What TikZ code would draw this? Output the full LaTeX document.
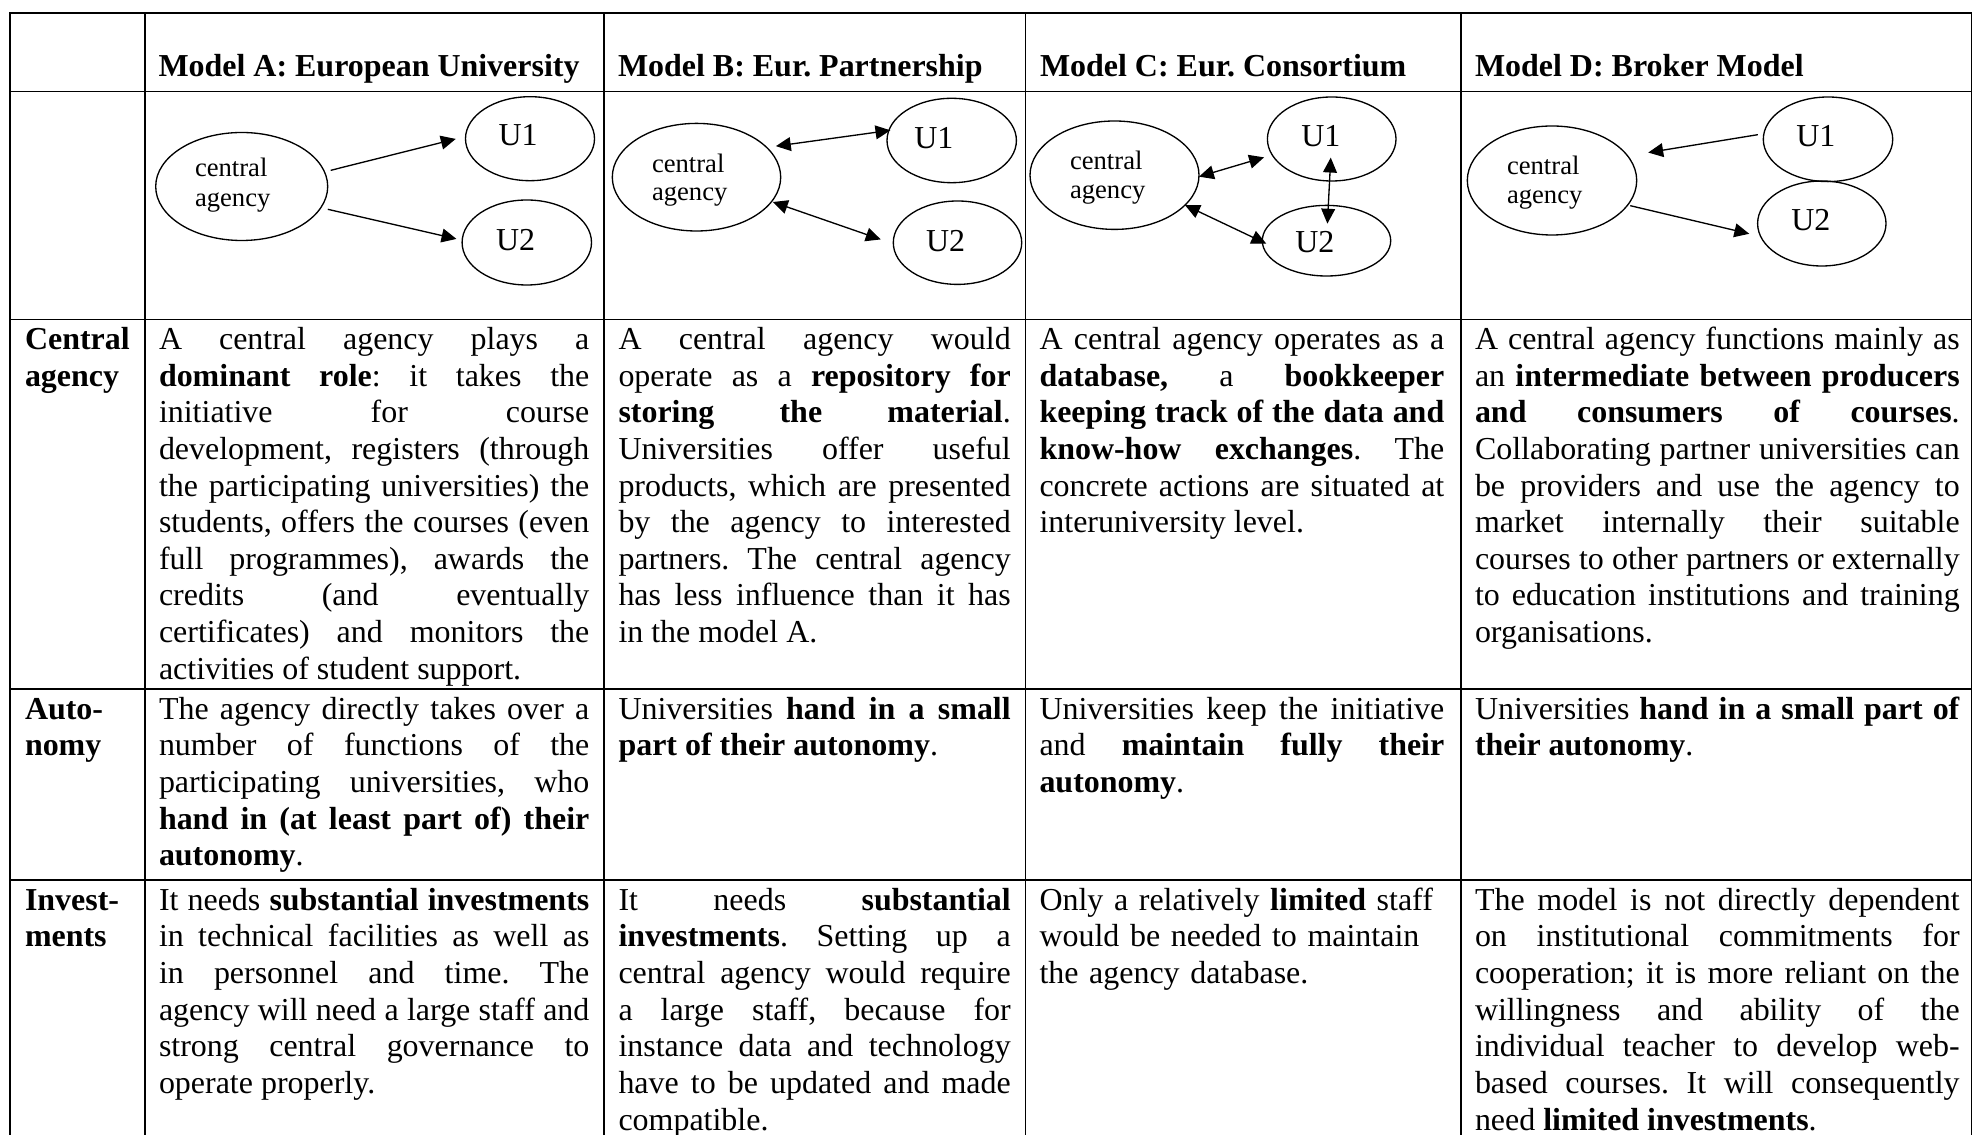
\documentclass[tikz,border=0pt]{standalone}
\usepackage{fontspec}
\setmainfont{Liberation Serif}
\usetikzlibrary{arrows.meta,shapes.geometric}
\tolerance=10000 \hbadness=10000 \hyphenpenalty=10000 \exhyphenpenalty=10000
\frenchspacing
\begin{document}
\begin{tikzpicture}[x=0.3755pt,y=-0.3755pt,
  grid/.style={line width=0.7pt, line cap=rect},
  body/.style={anchor=north west, inner sep=0pt, outer sep=0pt, align=justify, font=\fontsize{12}{13.75}\selectfont\frenchspacing},
  lab/.style={anchor=north west, inner sep=0pt, outer sep=0pt, align=left, text width=48pt, font=\fontsize{12}{13.75}\selectfont\bfseries},
  head/.style={anchor=base west, inner sep=0pt, outer sep=0pt, font=\fontsize{12}{13.75}\selectfont\bfseries},
  ell/.style 2 args={ellipse, draw, line width=0.5pt, inner sep=0pt, outer sep=0pt, minimum width=#1*0.751pt, minimum height=#2*0.751pt},
  small/.style={anchor=base west, inner sep=0pt, outer sep=0pt, font=\fontsize{10}{12}\selectfont},
  uu/.style={anchor=base west, inner sep=0pt, outer sep=0pt, font=\fontsize{12}{13.75}\selectfont},
  arr/.style={line width=0.5pt, -{Triangle[length=5.6pt,width=5.2pt]}},
  darr/.style={line width=0.5pt, {Triangle[length=5.6pt,width=5.2pt]}-{Triangle[length=5.6pt,width=5.2pt]}},
]
\path[fill=white] (0,0) rectangle (1973,1135);
\useasboundingbox (0,0) rectangle (1973,1135);

% table grid
\foreach \yy in {12.7,91.5,319.5,689.3,880.3}
  \draw[grid] (9.8,\yy) -- (1971.5,\yy);
\foreach \xx in {9.8,145,604,1025.5,1460.7,1971.5}
  \draw[grid] (\xx,12.7) -- (\xx,1140);

% headers
\node[head] (hA) at (158.5,77) {Model A: European University};
\node[head] (hB) at (618,77) {Model B: Eur. Partnership};
\node[head] (hC) at (1040,77) {Model C: Eur. Consortium};
\node[head] (hD) at (1475,77) {Model D: Broker Model};

% ---- Model A diagram
\node[ell={86}{54}] (caA) at (241.7,186.5) {};
\node[ell={64.5}{42}] (u1A) at (530,138.7) {};
\node[ell={64.7}{42.5}] (u2A) at (526.8,242.5) {};
\node[small] (tcA1) at (195,176.7) {central};
\node[small] (tcA2) at (195,206.5) {agency};
\node[uu] (tu1A) at (498.5,146) {U1};
\node[uu] (tu2A) at (496,250.7) {U2};
\draw[arr, shorten <=2.4pt, shorten >=3.8pt] (caA.10.5) -- (u1A.178.9);
\draw[arr, shorten <=2.7pt, shorten >=2.2pt] (caA.-15.9) -- (u2A.178.5);

% ---- Model B diagram
\node[ell={84.2}{53.8}] (caB) at (696.5,177.2) {};
\node[ell={64.7}{42.2}] (u1B) at (951.7,140.5) {};
\node[ell={64.2}{41.7}] (u2B) at (957.5,242.7) {};
\node[small] (tcB1) at (652,172.7) {central};
\node[small] (tcB2) at (652,201) {agency};
\node[uu] (tu1B) at (914.3,148.5) {U1};
\node[uu] (tu2B) at (926,252) {U2};
\draw[darr, shorten <=3.5pt, shorten >=-0.6pt] (caB.23.4) -- (u1B.171.2);
\draw[darr, shorten <=0.5pt, shorten >=5pt] (caB.-18.6) -- (u2B.181.7);

% ---- Model C diagram
\node[ell={84.5}{54.2}] (caC) at (1114.5,175.2) {};
\node[ell={64.3}{42}] (u1C) at (1331.7,139) {};
\node[ell={64.2}{35.3}] (u2C) at (1326.5,240.7) {};
\node[small] (tcC1) at (1070,169.3) {central};
\node[small] (tcC2) at (1070,198.3) {agency};
\node[uu] (tu1C) at (1301.3,147) {U1};
\node[uu] (tu2C) at (1295.3,252.7) {U2};
\draw[darr, shorten >=3.2pt] (caC.-1.2) -- (u1C.195.5);
\draw[darr, shorten >=-1.65pt] (caC.-23.1) -- (u2C.181.9);
\draw[darr, shorten <=7pt, shorten >=6.4pt] (u1C.center) -- (u2C.center);

% ---- Model D diagram
\node[ell={84.7}{54.5}] (caD) at (1552,180.5) {};
\node[ell={64.7}{42.3}] (u1D) at (1828,139.3) {};
\node[ell={64.2}{42.5}] (u2D) at (1821.8,223.5) {};
\node[small] (tcD1) at (1507,174.3) {central};
\node[small] (tcD2) at (1507,203.7) {agency};
\node[uu] (tu1D) at (1796.3,147) {U1};
\node[uu] (tu2D) at (1791.3,231) {U2};
\draw[arr, shorten <=2.3pt, shorten >=7.85pt] (u1D.175.1) -- (caD.18.8);
\draw[arr, shorten <=1pt, shorten >=4.4pt] (caD.-18.1) -- (u2D.192.3);

% ---- row labels
\node[lab] (l1) at (25,324) {\strut Central\\agency};
\node[lab] (l2) at (25,693.7) {\strut Auto-\\nomy};
\node[lab] (l3) at (25,884.7) {\strut Invest-\\ments};

% ---- Central agency row
\node[body, text width=161.6pt] (a1) at (159,324) {\strut A central agency plays a\linebreak
\textbf{dominant role}: it takes the\linebreak
initiative for course\linebreak
development, registers (through\linebreak
the participating universities) the\linebreak
students, offers the courses (even\linebreak
full programmes), awards the\linebreak
credits (and eventually\linebreak
certificates) and monitors the\linebreak
activities of student support.};

\node[body, text width=147.3pt] (b1) at (618.5,324) {\strut A central agency would\linebreak
operate as a \textbf{repository for}\linebreak
\textbf{storing the material}.\linebreak
Universities offer useful\linebreak
products, which are presented\linebreak
by the agency to interested\linebreak
partners. The central agency\linebreak
has less influence than it has\linebreak
in the model A.};

\node[body, text width=152pt] (c1) at (1039.5,324) {\strut A central agency operates as a\linebreak
\textbf{database,} a \textbf{bookkeeper}\linebreak
\textbf{keeping track of the data and}\linebreak
\textbf{know-how exchanges}. The\linebreak
concrete actions are situated at\linebreak
interuniversity level.};

\node[body, text width=182pt] (d1) at (1475,324) {\strut A central agency functions mainly as\linebreak
an \textbf{intermediate between producers}\linebreak
\textbf{and consumers of courses}.\linebreak
Collaborating partner universities can\linebreak
be providers and use the agency to\linebreak
market internally their suitable\linebreak
courses to other partners or externally\linebreak
to education institutions and training\linebreak
organisations.};

% ---- Autonomy row
\node[body, text width=161.6pt] (a2) at (159,693.7) {\strut The agency directly takes over a\linebreak
number of functions of the\linebreak
participating universities, who\linebreak
\textbf{hand in (at least part of) their}\linebreak
\textbf{autonomy}.};

\node[body, text width=147.3pt] (b2) at (618.5,693.7) {\strut Universities \textbf{hand in a small}\linebreak
\textbf{part of their autonomy}.};

\node[body, text width=152pt] (c2) at (1039.5,693.7) {\strut Universities keep the initiative\linebreak
and \textbf{maintain fully their}\linebreak
\textbf{autonomy}.};

\node[body, text width=182pt] (d2) at (1475,693.7) {\strut Universities \textbf{hand in a small part of}\linebreak
\textbf{their autonomy}.};

% ---- Investments row
\node[body, text width=161.6pt] (a3) at (159,884.7) {\strut It needs \textbf{substantial investments}\linebreak
in technical facilities as well as\linebreak
in personnel and time. The\linebreak
agency will need a large staff and\linebreak
strong central governance to\linebreak
operate properly.};

\node[body, text width=147.3pt] (b3) at (618.5,884.7) {\strut It needs \textbf{substantial}\linebreak
\textbf{investments}. Setting up a\linebreak
central agency would require\linebreak
a large staff, because for\linebreak
instance data and technology\linebreak
have to be updated and made\linebreak
compatible.};

\node[body, align=left, text width=152pt] (c3) at (1039.5,884.7) {\strut Only a relatively \textbf{limited} staff\newline
would be needed to maintain\newline
the agency database.};

\node[body, text width=182pt] (d3) at (1475,884.7) {\strut The model is not directly dependent\linebreak
on institutional commitments for\linebreak
cooperation; it is more reliant on the\linebreak
willingness and ability of the\linebreak
individual teacher to develop web-\linebreak
based courses. It will consequently\linebreak
need \textbf{limited investments}.};
\end{tikzpicture}
\end{document}
